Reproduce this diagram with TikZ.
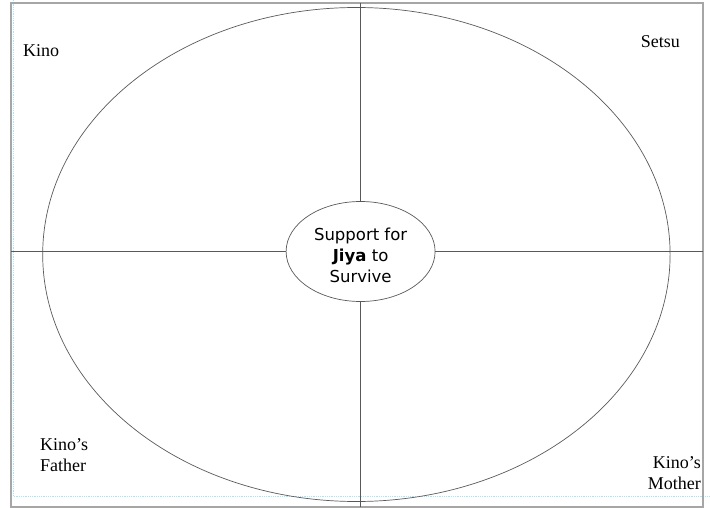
\documentclass[tikz,border=0pt]{standalone}
\usepackage{fontspec}
\setmainfont{Liberation Serif}
\newfontfamily\hubfont{DejaVu Sans}
\usetikzlibrary{shapes.geometric}

\begin{document}
\begin{tikzpicture}[x=1pt, y=-1pt,
	frame/.style = {draw=black!35, line width=1.6pt},
	guide/.style = {draw=blue!30!cyan!35, densely dotted, line width=0.8pt},
	spoke/.style = {draw=black!65, line width=0.7pt},
	hub/.style = {ellipse, draw=black!65, line width=0.7pt, minimum width=149pt,
		minimum height=100pt, inner sep=0pt, align=center,
		font=\hubfont\fontsize{16.5}{21}\selectfont},
	who/.style = {font=\fontsize{18}{21}\selectfont, inner sep=0pt}]
	
	\useasboundingbox (0,0) rectangle (710,508);
	
	% Blue page guides
	\draw[guide] (13,0) -- (13,496) -- (710,496);
	
	% Page frame
	\draw[frame] (11,3) rectangle (703,507);
	
	% Big circle of support
	\draw[spoke] (356.4,254.5) ellipse [x radius=313.7pt, y radius=247pt];
	
	% Centre node
	\node[hub] (hub) at (360.6,251.5) {\rule{0pt}{21pt}Support for\\\textbf{Jiya} to\\Survive};
	
	% Ends of the cross on the frame
	\coordinate (top) at (360.6,3);
	\coordinate (bottom) at (360.6,507);
	\coordinate (left) at (11,251.5);
	\coordinate (right) at (703,251.5);
	
	\draw[spoke] (hub.north) -- (top);
	\draw[spoke] (hub.south) -- (bottom);
	\draw[spoke] (hub.west) -- (left);
	\draw[spoke] (hub.east) -- (right);
	
	% People in each quarter
	\node[who, anchor=west] (kino) at (23,51) {Kino};
	\node[who, anchor=east] (setsu) at (680,42) {Setsu};
	\node[who, align=left, anchor=west] (father) at (40,455) {Kino's\\Father};
	\node[who, align=right, anchor=east] (mother) at (701,473) {Kino's\\Mother};
	
\end{tikzpicture}
\end{document}
